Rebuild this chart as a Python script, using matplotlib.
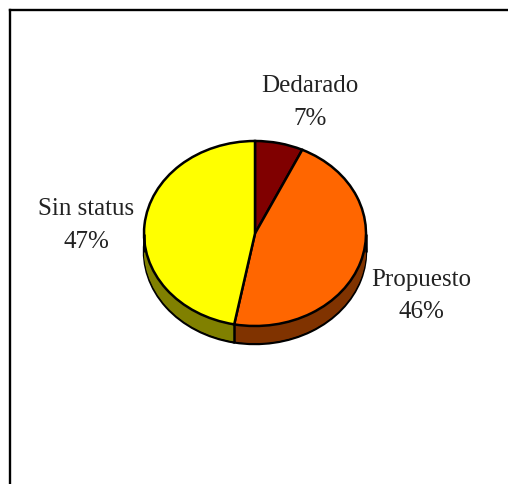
import matplotlib
matplotlib.use("Agg")
import matplotlib.pyplot as plt
import numpy as np

categories = ["Dedarado", "Propuesto", "Sin status"]
values = [7, 46, 47]
face_colors = ["#800000", "#FF6600", "#FFFF00"]
side_colors = ["#400000", "#803300", "#808000"]

W, H = 508, 485
CX, CY, RX, RY, DEPTH = 255, 234.5, 111, 92.5, 18
label_px = [(310, 86, 119), (421, 280, 312), (86, 209, 242)]

fig = plt.figure(figsize=(W / 100, H / 100), dpi=100, facecolor="white")

# outer frame: only left and top edges are visible in the crop
frame = fig.add_axes([10 / W, -0.1, 1.0, (H - 10.5) / H + 0.1])
frame.set_xticks([]); frame.set_yticks([])
for s in ("right", "bottom"):
    frame.spines[s].set_visible(False)
for s in ("left", "top"):
    frame.spines[s].set_linewidth(1.7)
    frame.spines[s].set_color("black")

ax = fig.add_axes([0, 0, 1, 1])
ax.patch.set_alpha(0)
dz = DEPTH / RY
LW = 1.8

# bottom rim, then wall, then top face
ax.pie(values, colors=side_colors, startangle=90, counterclock=False, center=(0, -dz),
       wedgeprops=dict(edgecolor="black", linewidth=LW))
for off in np.linspace(dz, 0, DEPTH + 1)[1:-1]:
    ax.pie(values, colors=side_colors, startangle=90, counterclock=False, center=(0, -off),
           wedgeprops=dict(edgecolor="none", linewidth=0))

# visible seam on the wall between the front slices
cum = np.cumsum(values) / np.sum(values)
for c in cum[:-1]:
    th = 2 * np.pi * c
    sx, sy = np.sin(th), np.cos(th)
    if sy < 0:
        ax.plot([sx, sx], [sy, sy - dz], color="black", lw=LW, solid_capstyle="butt")
for sx in (-1, 1):
    ax.plot([sx, sx], [0, -dz], color="black", lw=LW, solid_capstyle="butt")

ax.pie(values, colors=face_colors, startangle=90, counterclock=False,
       wedgeprops=dict(edgecolor="black", linewidth=LW))

ax.set_aspect("auto")
ax.set_xlim(-CX / RX, (W - CX) / RX)
ax.set_ylim((CY - H) / RY, CY / RY)
ax.set_axis_off()

font = dict(family="Liberation Serif", fontsize=18, color="#222222", ha="center", va="center")
for name, val, (px, y1, y2) in zip(categories, values, label_px):
    ax.text((px - CX) / RX, (CY - y1) / RY, name, **font)
    ax.text((px - CX) / RX, (CY - y2) / RY, f"{val}%", **font)

fig.savefig("out.png", dpi=100)
